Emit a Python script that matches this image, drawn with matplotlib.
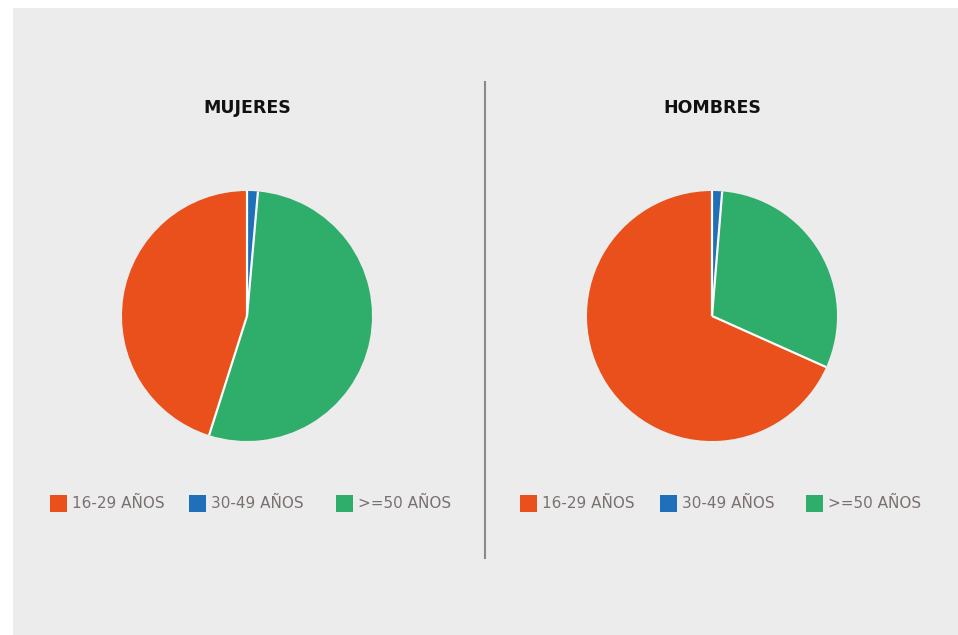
import matplotlib
matplotlib.use("Agg")
import numpy as np
import matplotlib.pyplot as plt
from matplotlib.patches import Rectangle

# datos (porcentaje por grupo de edad)
categorias = ["16-29 AÑOS", "30-49 AÑOS", ">=50 AÑOS"]
mujeres = [45.1, 1.4, 53.5]
hombres = [68.3, 1.3, 30.4]
titulos = ["MUJERES", "HOMBRES"]

colores = ["#e9501c", "#1f70b8", "#2fad6a"]
FONDO = "#ececec"
W, H = 958, 635

fig = plt.figure(figsize=(W / 100, H / 100), dpi=100)
fig.patch.set_facecolor("white")
fig.patches.append(Rectangle((13 / W, 0), 1 - 13 / W, 1 - 8 / H,
                             transform=fig.transFigure, facecolor=FONDO,
                             edgecolor="none", zorder=-5))

# linea divisoria
fig.add_artist(plt.Line2D([485 / W, 485 / W], [1 - 558 / H, 1 - 82 / H],
                          transform=fig.transFigure, color="#8a8a8a", lw=1.5))

centros = [247, 712]
leg_x = [[50, 189, 336], [520, 660, 806]]
R = 125

for cx, titulo, valores, lx in zip(centros, titulos, [mujeres, hombres], leg_x):
    ax = fig.add_axes(((cx - R) / W, (H - 316 - R) / H, 2 * R / W, 2 * R / H))
    ax.set_zorder(2)
    # orden antihorario desde arriba: 16-29, >=50, 30-49
    orden = [0, 2, 1]
    wedges, _ = ax.pie([valores[i] for i in orden],
                       colors=[colores[i] for i in orden],
                       startangle=90, counterclock=True, radius=1,
                       wedgeprops=dict(linewidth=0))
    # separaciones blancas solo entre sectores
    for w in wedges:
        t = np.deg2rad(w.theta1)
        ax.plot([0, np.cos(t)], [0, np.sin(t)], color="white", lw=1.6,
                solid_capstyle="butt")
    ax.set_xlim(-1, 1)
    ax.set_ylim(-1, 1)
    ax.set_aspect("equal")
    ax.axis("off")

    fig.text(cx / W, 1 - 108 / H, titulo, ha="center", va="center",
             fontsize=12.5, fontweight="bold", color="#111111")

    for x, cat, col in zip(lx, categorias, colores):
        fig.patches.append(Rectangle((x / W, 1 - 512 / H), 17 / W, 17 / H,
                                     transform=fig.transFigure, facecolor=col,
                                     edgecolor="none"))
        fig.text((x + 22) / W, 1 - 503.5 / H, cat, ha="left", va="center",
                 fontsize=11, color="#7b7070")

fig.savefig("out.png", dpi=100, facecolor="white")
